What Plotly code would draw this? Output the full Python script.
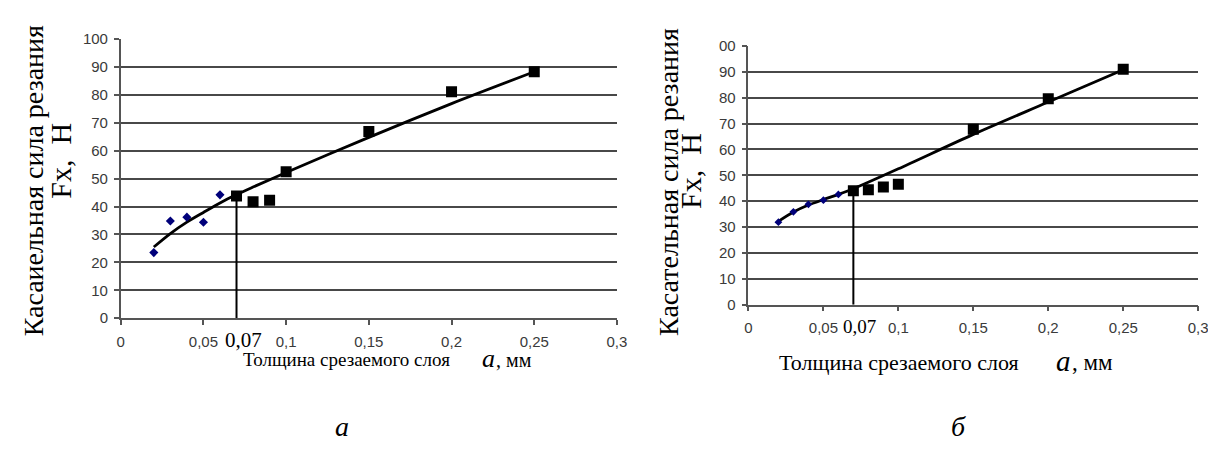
import plotly.graph_objects as go

# ---------------- data: chart "а" ----------------
a_diam_x = [0.02, 0.03, 0.04, 0.05, 0.06]
a_diam_y = [23.5, 34.8, 36.2, 34.4, 44.2]
a_sq_x = [0.07, 0.08, 0.09, 0.1, 0.15, 0.2, 0.25]
a_sq_y = [43.8, 41.7, 42.3, 52.5, 66.9, 81.1, 88.3]
a_trend_x = [0.02, 0.03, 0.04, 0.05, 0.06, 0.07, 0.08, 0.1, 0.15, 0.2, 0.25]
a_trend_y = [25.5, 30.3, 34.4, 37.9, 41.3, 44.3, 47.0, 52.2, 64.8, 76.9, 88.3]
a_vline_x = [0.07, 0.07]
a_vline_y = [0, 43.8]

# ---------------- data: chart "б" ----------------
b_diam_x = [0.02, 0.03, 0.04, 0.05, 0.06]
b_diam_y = [31.9, 35.9, 38.8, 40.4, 42.6]
b_sq_x = [0.07, 0.08, 0.09, 0.1, 0.15, 0.2, 0.25]
b_sq_y = [44.0, 44.4, 45.5, 46.5, 67.8, 79.6, 91.0]
b_trend_x = [0.02, 0.03, 0.04, 0.05, 0.06, 0.07, 0.1, 0.15, 0.2, 0.25]
b_trend_y = [32.2, 35.8, 38.5, 40.6, 42.6, 44.8, 52.5, 65.8, 78.3, 90.8]
b_vline_x = [0.07, 0.07]
b_vline_y = [0, 44.0]

# ---------------- ticks / labels ----------------
x_tickvals = [0, 0.05, 0.1, 0.15, 0.2, 0.25, 0.3]
x_ticktext = ["0", "0,05", "0,1", "0,15", "0,2", "0,25", "0,3"]
y_tickvals = [0, 10, 20, 30, 40, 50, 60, 70, 80, 90, 100]
a_y_ticktext = ["0", "10", "20", "30", "40", "50", "60", "70", "80", "90", "100"]
b_y_ticktext = ["0", "10", "20", "30", "40", "50", "60", "70", "80", "90", "00"]
mark_x = 0.07
mark_label = "0,07"
y_title_1a = "Касаиельная сила резания"
y_title_1b = "Касательная сила резания"
y_title_2 = "Fx,&nbsp;&nbsp;H"
x_title_words = "Толщина срезаемого слоя"
x_title_var = "a"
x_title_unit = ", мм"
cap_a = "а"
cap_b = "б"

W, H = 1216, 450
NAVY = "#00007a"
GRID = "#484848"
AXC = "#555555"
TICKF = dict(family="Liberation Sans", size=15, color="#3a3a3a")
SERIF = "Liberation Serif, DejaVu Serif, serif"

fig = go.Figure()


def add_chart(xa, ya, tx, ty, vx, vy, dx, dy, sx, sy, dsize):
    fig.add_trace(go.Scatter(x=tx, y=ty, xaxis=xa, yaxis=ya, mode="lines",
                             line=dict(color="black", width=2.8, shape="spline", smoothing=0.8),
                             hoverinfo="skip", showlegend=False))
    fig.add_trace(go.Scatter(x=vx, y=vy, xaxis=xa, yaxis=ya, mode="lines",
                             line=dict(color="black", width=2), hoverinfo="skip", showlegend=False))
    fig.add_trace(go.Scatter(x=dx, y=dy, xaxis=xa, yaxis=ya, mode="markers",
                             marker=dict(symbol="diamond", size=dsize, color=NAVY),
                             showlegend=False))
    fig.add_trace(go.Scatter(x=sx, y=sy, xaxis=xa, yaxis=ya, mode="markers",
                             marker=dict(symbol="square", size=11, color="black"),
                             showlegend=False))


add_chart("x", "y", a_trend_x, a_trend_y, a_vline_x, a_vline_y,
          a_diam_x, a_diam_y, a_sq_x, a_sq_y, 7)
add_chart("x2", "y2", b_trend_x, b_trend_y, b_vline_x, b_vline_y,
          b_diam_x, b_diam_y, b_sq_x, b_sq_y, 6)


def xax(domain, anchor):
    return dict(domain=domain, anchor=anchor, range=[0, 0.3], tickvals=x_tickvals,
                ticktext=x_ticktext, showgrid=False, zeroline=False, showline=True,
                linecolor=AXC, linewidth=1.5, ticks="outside", ticklen=5, tickwidth=1.5,
                tickcolor=AXC, tickfont=TICKF, ticklabelstandoff=4, fixedrange=True)


def yax(domain, anchor, ticktext):
    return dict(domain=domain, anchor=anchor, range=[0, 100], tickvals=y_tickvals,
                ticktext=ticktext, showgrid=True, gridcolor=GRID, gridwidth=1.6,
                zeroline=False, showline=True, linecolor=AXC, linewidth=1.5,
                ticks="outside", ticklen=5, tickwidth=1.5, tickcolor=AXC,
                tickfont=TICKF, ticklabelstandoff=3, fixedrange=True)


fig.update_layout(
    width=W, height=H, margin=dict(l=0, r=0, t=0, b=0),
    paper_bgcolor="white", plot_bgcolor="white", showlegend=False,
    xaxis=xax([110 / W, 612 / W], "y"),
    yaxis=yax([1 - 313 / H, 1 - 23 / H], "x", a_y_ticktext),
    xaxis2=xax([745 / W, 1200 / W], "y2"),
    yaxis2=yax([1 - 299 / H, 1 - 30 / H], "x2", b_y_ticktext),
)

anns = []
# 0,07 labels
anns.append(dict(x=mark_x, xref="x", y=1 - 336 / H, yref="paper", text=mark_label,
                 showarrow=False, font=dict(family=SERIF, size=21, color="black"),
                 xanchor="center", yanchor="middle", xshift=7))
anns.append(dict(x=mark_x, xref="x2", y=1 - 322 / H, yref="paper", text=mark_label,
                 showarrow=False, font=dict(family=SERIF, size=19, color="black"),
                 xanchor="center", yanchor="middle", xshift=6))
# y titles
for (cx, cy, txt, fs) in [(22, 170, y_title_1a, 28), (49, 149, y_title_2, 30),
                          (664, 171, y_title_1b, 28), (687, 160, y_title_2, 30)]:
    anns.append(dict(x=cx / W, y=1 - cy / H, xref="paper", yref="paper", text=txt,
                     textangle=-90, showarrow=False,
                     font=dict(family=SERIF, size=fs, color="black"),
                     xanchor="center", yanchor="middle"))
# x titles (words, italic variable, unit)
for (lx, vx, ux, cy, fs) in [(232, 482, 488, 356, 19), (774, 1064, 1070, 359, 22)]:
    anns.append(dict(x=lx / W, y=1 - cy / H, xref="paper", yref="paper", text=x_title_words,
                     showarrow=False, font=dict(family=SERIF, size=fs, color="black"),
                     xanchor="left", yanchor="middle"))
    anns.append(dict(x=vx / W, y=1 - (cy - 1) / H, xref="paper", yref="paper",
                     text="<i>" + x_title_var + "</i>",
                     showarrow=False, font=dict(family="Liberation Serif", size=fs + 7, color="black"),
                     xanchor="center", yanchor="middle"))
    anns.append(dict(x=ux / W, y=1 - cy / H, xref="paper", yref="paper", text=x_title_unit,
                     showarrow=False, font=dict(family=SERIF, size=fs + 1, color="black"),
                     xanchor="left", yanchor="middle"))
# captions
for (cx, cy, txt) in [(334, 426, cap_a), (958, 426, cap_b)]:
    anns.append(dict(x=cx / W, y=1 - cy / H, xref="paper", yref="paper",
                     text="<i>" + txt + "</i>", showarrow=False,
                     font=dict(family=SERIF, size=28, color="black"),
                     xanchor="center", yanchor="middle"))
fig.update_layout(annotations=anns)

fig.write_html("out.html")
